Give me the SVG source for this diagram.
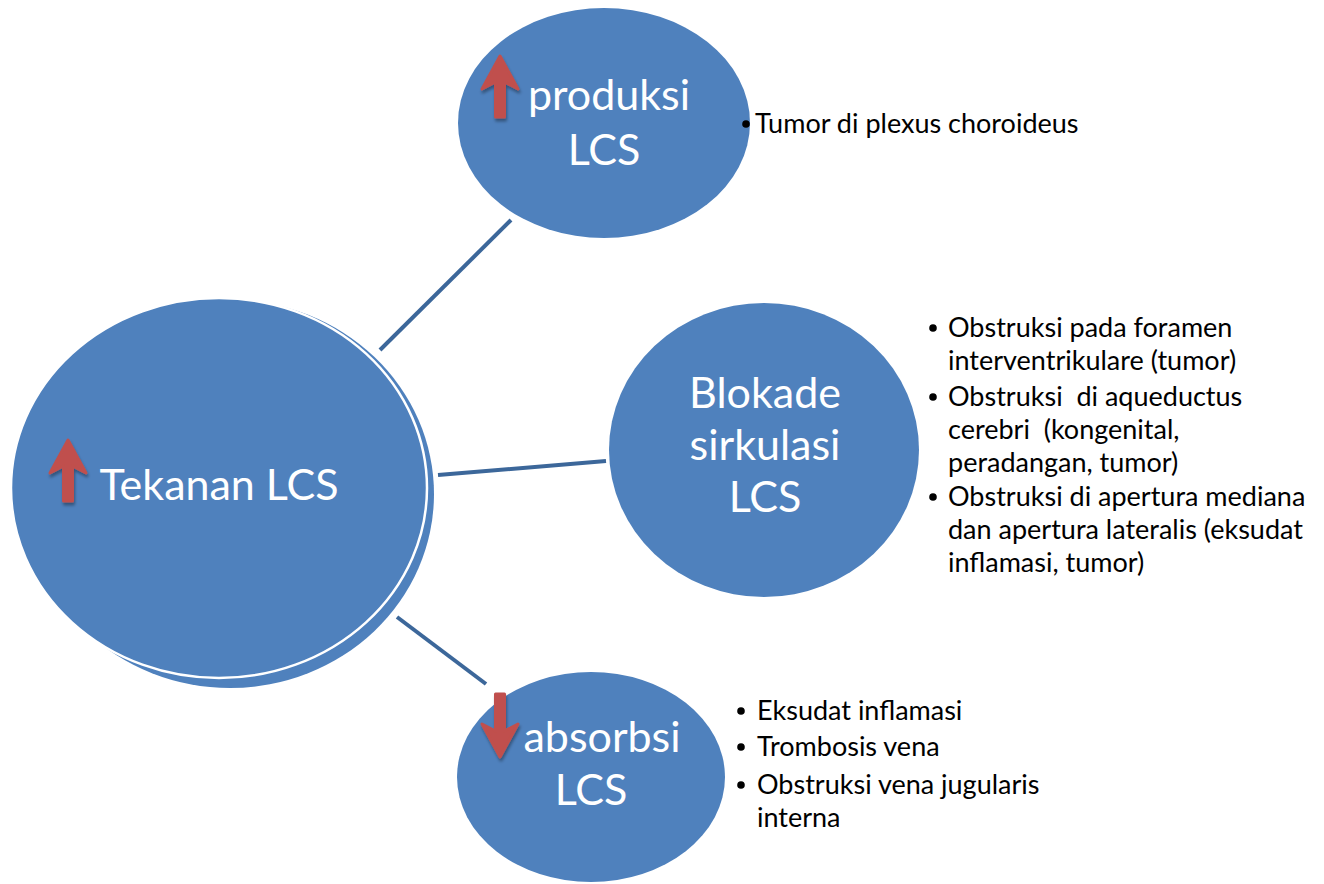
<svg xmlns="http://www.w3.org/2000/svg" width="1324" height="884" viewBox="0 0 1324 884">
<defs>
<style>
.node{fill:#4F81BD}
.lbl{font-family:Lato,"Open Sans",sans-serif;font-size:43px;fill:#FFFFFF;text-anchor:middle}
.blt{font-family:Lato,"Open Sans",sans-serif;font-size:27px;fill:#000000}
.dot{fill:#000000}
.conn{stroke:#3C679A;stroke-width:4;fill:none}
.arr{fill:#C0504D;stroke:#C0504D;stroke-width:3;stroke-linejoin:round;filter:url(#sh)}
</style>
<filter id="sh" x="-50%" y="-50%" width="200%" height="200%">
<feDropShadow dx="1" dy="3" stdDeviation="1.5" flood-color="#000" flood-opacity="0.35"/>
</filter>
</defs>
<g id="connectors">
<line class="conn" x1="380" y1="350" x2="511" y2="220"/>
<line class="conn" x1="438" y1="475" x2="606" y2="461"/>
<line class="conn" x1="397" y1="617" x2="486" y2="684"/>
</g>
<g id="node-tekanan">
<ellipse class="node" cx="230" cy="494" rx="204" ry="194"/>
<ellipse class="node" cx="219" cy="488" rx="208" ry="190" stroke="#FFFFFF" stroke-width="2.5"/>
<path class="arr" d="M68,440 L86,473 L72.5,466 L72.5,501 L63.5,501 L63.5,466 L50,473 Z"/>
<text class="lbl" x="219" y="500">Tekanan LCS</text>
</g>
<g id="node-produksi">
<ellipse class="node" cx="604" cy="123" rx="146" ry="115"/>
<path class="arr" d="M500,56 L518,89 L504.5,82 L504.5,117 L495.5,117 L495.5,82 L482,89 Z"/>
<text class="lbl" x="609" y="110">produksi</text>
<text class="lbl" x="604" y="165">LCS</text>
</g>
<g id="node-blokade">
<ellipse class="node" cx="764" cy="450" rx="155" ry="147"/>
<text class="lbl" x="765" y="408">Blokade</text>
<text class="lbl" x="765" y="460">sirkulasi</text>
<text class="lbl" x="765" y="512">LCS</text>
</g>
<g id="node-absorbsi">
<ellipse class="node" cx="591" cy="777" rx="134" ry="105"/>
<path class="arr" d="M500,757 L518,724 L504.5,731 L504.5,694 L495.5,694 L495.5,731 L482,724 Z"/>
<text class="lbl" x="602" y="752">absorbsi</text>
<text class="lbl" x="591" y="805">LCS</text>
</g>
<g id="list-produksi">
<circle class="dot" cx="746" cy="124" r="3.8"/>
<text class="blt" x="755" y="133">Tumor di plexus choroideus</text>
</g>
<g id="list-blokade">
<circle class="dot" cx="933" cy="328" r="3.8"/>
<text class="blt" x="948" y="337">Obstruksi pada foramen</text>
<text class="blt" x="948" y="370">interventrikulare (tumor)</text>
<circle class="dot" cx="933" cy="397" r="3.8"/>
<text class="blt" x="948" y="406" xml:space="preserve">Obstruksi  di aqueductus</text>
<text class="blt" x="948" y="439" xml:space="preserve">cerebri  (kongenital,</text>
<text class="blt" x="948" y="472">peradangan, tumor)</text>
<circle class="dot" cx="933" cy="497" r="3.8"/>
<text class="blt" x="948" y="506">Obstruksi di apertura mediana</text>
<text class="blt" x="948" y="539">dan apertura lateralis (eksudat</text>
<text class="blt" x="948" y="572">inflamasi, tumor)</text>
</g>
<g id="list-absorbsi">
<circle class="dot" cx="741" cy="711" r="3.8"/>
<text class="blt" x="757" y="720">Eksudat inflamasi</text>
<circle class="dot" cx="741" cy="747" r="3.8"/>
<text class="blt" x="757" y="756">Trombosis vena</text>
<circle class="dot" cx="741" cy="785" r="3.8"/>
<text class="blt" x="757" y="794">Obstruksi vena jugularis</text>
<text class="blt" x="757" y="827">interna</text>
</g>
</svg>
